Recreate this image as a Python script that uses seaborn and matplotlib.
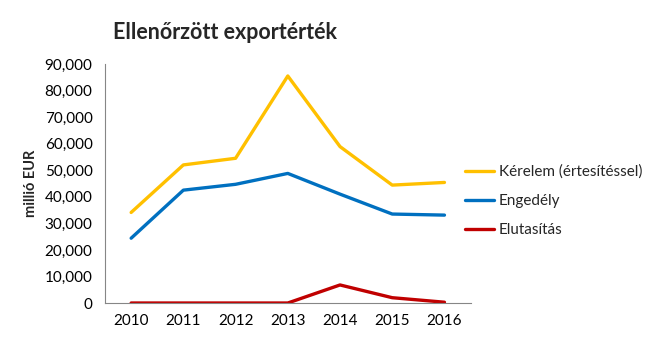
import matplotlib
matplotlib.use("Agg")
import matplotlib.pyplot as plt
from matplotlib.ticker import FuncFormatter, FixedLocator
import seaborn as sns
import pandas as pd

years = ["2010", "2011", "2012", "2013", "2014", "2015", "2016"]
kerelem = [34100, 52000, 54500, 85500, 58900, 44400, 45400]
engedely = [24400, 42500, 44700, 48800, 41000, 33500, 33100]
elutasitas = [0, 0, 0, 0, 6800, 2000, 300]
series_names = ["Kérelem (értesítéssel)", "Engedély", "Elutasítás"]
colors = ["#FFC000", "#0070C0", "#C00000"]

rows = []
for name, vals in zip(series_names, [kerelem, engedely, elutasitas]):
    for y, v in zip(years, vals):
        rows.append({"year": y, "value": v, "series": name})
df = pd.DataFrame(rows)

sns.set_theme(style="white")
plt.rcParams["font.family"] = ["Lato", "DejaVu Sans"]

fig = plt.figure(figsize=(6.61, 3.58), dpi=100)
ax = fig.add_axes([0.1589, 0.1536, 0.553, 0.6676])

sns.lineplot(data=df, x="year", y="value", hue="series", palette=colors,
             hue_order=series_names, linewidth=2.4, ax=ax, sort=False)

ax.set_xlim(-0.5, 6.5)
ax.set_ylim(0, 90000)
ax.set_yticks(range(0, 90001, 10000))
ax.yaxis.set_major_formatter(FuncFormatter(lambda v, p: f"{int(v):,}"))
ax.xaxis.set_minor_locator(FixedLocator([i - 0.5 for i in range(8)]))
ax.tick_params(axis="x", which="major", length=0, labelsize=11, pad=8, colors="black")
ax.tick_params(axis="x", which="minor", length=5, width=0.8, color="#868686", direction="out")
ax.tick_params(axis="y", which="major", length=5, width=0.8, color="#868686", direction="out",
               labelsize=11, labelcolor="black", pad=4)
for s in ["top", "right"]:
    ax.spines[s].set_visible(False)
for s in ["left", "bottom"]:
    ax.spines[s].set_color("#868686")
    ax.spines[s].set_linewidth(0.8)
ax.set_xlabel("")
ax.set_ylabel("millió EUR", fontsize=10.5, fontweight="bold", labelpad=5)
ax.grid(False)

handles, labels = ax.get_legend_handles_labels()
ax.get_legend().remove()
leg = fig.legend(handles, labels, loc="center left", bbox_to_anchor=(0.7035, 0.4385),
                 frameon=False, fontsize=11, handlelength=1.9, handletextpad=0.3,
                 labelspacing=1.0, borderaxespad=0, borderpad=0)
for line in leg.get_lines():
    line.set_linewidth(2.4)

fig.text(0.171, 0.91, "Ellenőrzött exportérték", fontsize=15.5, fontweight="bold",
         ha="left", va="center")

fig.savefig("out.png", dpi=100)
